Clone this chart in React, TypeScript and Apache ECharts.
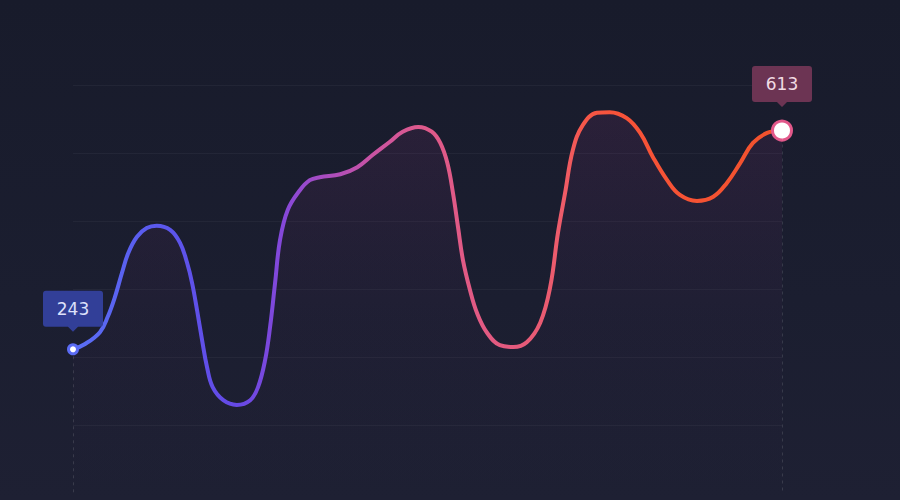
import { useEffect, useRef } from "react";
import * as echarts from "echarts";

// points: position across the plot (0..100) and value
const positions = [
	0, 1.7, 3.8, 4.9, 5.9, 6.9, 7.8, 9.0, 10.4, 11.8, 13.7, 15.1, 16.1, 16.8, 17.5, 18.2, 18.9, 19.7, 21.2, 23.1,
	25.0, 26.1, 27.1, 27.8, 28.5, 29.2, 30.3, 32.0, 33.4, 34.8, 37.7, 40.1, 42.3, 44.7, 46.5, 48.7, 50.6, 51.8,
	52.8, 53.6, 54.3, 55.0, 56.0, 57.0, 58.4, 60.2, 62.1, 64.0, 65.9, 67.3, 68.4, 69.4, 70.5, 71.9, 73.9, 75.7,
	78.1, 80.0, 81.8, 83.8, 85.6, 88.0, 90.3, 92.2, 94.1, 95.9, 97.9, 100,
];
const values = [
	243, 252, 272, 298, 331, 372, 406, 433, 448, 452, 445, 423, 389, 355, 309, 259, 213, 179, 157, 149, 157, 179,
	225, 281, 355, 428, 479, 512, 529, 534, 539, 551, 572, 594, 611, 619, 611, 592, 558, 507, 450, 394, 343, 304,
	271, 250, 247, 255, 288, 348, 440, 507, 580, 622, 643, 644, 634, 609, 568, 529, 504, 494, 501, 524, 558, 592,
	609, 613,
];
const yMin = 0;
const yMax = 690;
const yStep = 115;

const calloutPath =
	"path://M3,0 H57 Q60,0 60,3 V33 Q60,36 57,36 H35 L30,41 L25,36 H3 Q0,36 0,33 V3 Q0,0 3,0 Z";

export default function App() {
	const chartElementRef = useRef<HTMLDivElement | null>(null);

	useEffect(() => {
		if (!chartElementRef.current) return;
		const chart = echarts.init(chartElementRef.current, undefined, { renderer: "svg" });
		const last = values.length - 1;

		const seriesData = values.map((v, i) => {
			const point = [positions[i], v];
			if (i === 0) {
				return {
					value: point,
					symbol: "circle",
					symbolSize: 9,
					itemStyle: { color: "#ffffff", borderColor: "#5b6cf5", borderWidth: 3 },
				};
			}
			if (i === last) {
				return {
					value: point,
					symbol: "circle",
					symbolSize: 19,
					itemStyle: { color: "#ffffff", borderColor: "#e2588a", borderWidth: 3 },
				};
			}
			return { value: point, symbol: "none" };
		});

		chart.setOption({
			animation: false,
			backgroundColor: "transparent",
			grid: { left: 73, right: 118, top: 85, bottom: 7 },
			xAxis: {
				type: "value",
				min: 0,
				max: 100,
				show: false,
			},
			yAxis: {
				type: "value",
				min: yMin,
				max: yMax,
				interval: yStep,
				axisLine: { show: false },
				axisTick: { show: false },
				axisLabel: { show: false },
				splitLine: {
					show: true,
					showMinLine: false,
					lineStyle: { color: "rgba(255,255,255,0.045)", width: 1 },
				},
			},
			series: [
				{
					type: "line",
					smooth: 0.4,
					data: seriesData,
					showSymbol: true,
					lineStyle: {
						width: 4,
						color: {
							type: "linear",
							x: 0,
							y: 0,
							x2: 1,
							y2: 0,
							colorStops: [
								{ offset: 0, color: "#5a70f6" },
								{ offset: 0.12, color: "#5a58ec" },
								{ offset: 0.23, color: "#6549e6" },
								{ offset: 0.3, color: "#8748d8" },
								{ offset: 0.35, color: "#a64cc2" },
								{ offset: 0.42, color: "#c953a4" },
								{ offset: 0.49, color: "#de5a8c" },
								{ offset: 0.62, color: "#e45a7e" },
								{ offset: 0.69, color: "#ee5c6a" },
								{ offset: 0.72, color: "#f5574a" },
								{ offset: 0.76, color: "#f8533a" },
								{ offset: 1, color: "#f2522c" },
							],
						},
					},
					areaStyle: {
						origin: "start",
						color: {
							type: "linear",
							x: 0,
							y: 0,
							x2: 0,
							y2: 1,
							colorStops: [
								{ offset: 0, color: "rgba(170,60,140,0.17)" },
								{ offset: 0.55, color: "rgba(140,50,140,0.05)" },
								{ offset: 1, color: "rgba(120,50,140,0)" },
							],
						},
					},
					markLine: {
						silent: true,
						symbol: ["none", "none"],
						label: { show: false },
						lineStyle: { type: [3, 4], color: "rgba(255,255,255,0.12)", width: 1 },
						data: [
							[{ coord: [positions[0], values[0]] }, { coord: [positions[0], yMin] }],
							[{ coord: [positions[last], values[last]] }, { coord: [positions[last], yMin] }],
						],
					},
					markPoint: {
						silent: true,
						symbol: calloutPath,
						symbolSize: [60, 41],
						label: {
							show: true,
							position: "inside",
							offset: [0, -2.5],
							fontFamily: "DejaVu Sans",
							fontSize: 17,
							formatter: "{c}",
						},
						data: [
							{
								coord: [positions[0], values[0]],
								value: values[0],
								symbolOffset: [0, -38],
								itemStyle: { color: "#323f98" },
								label: { color: "#dde1fb" },
							},
							{
								coord: [positions[last], values[last]],
								value: values[last],
								symbolOffset: [0, -44],
								itemStyle: { color: "#6c3453" },
								label: { color: "#f1dbe4" },
							},
						],
					},
				},
			],
		});

		return () => {
			chart.dispose();
		};
	}, []);

	return (
		<div
			style={{
				position: "fixed",
				left: 0,
				top: 0,
				width: 900,
				height: 500,
				background: "linear-gradient(180deg, #181b2b 0%, #1b1e30 60%, #1e2033 100%)",
			}}
		>
			<div ref={chartElementRef} style={{ width: "100%", height: "100%" }} />
		</div>
	);
}
